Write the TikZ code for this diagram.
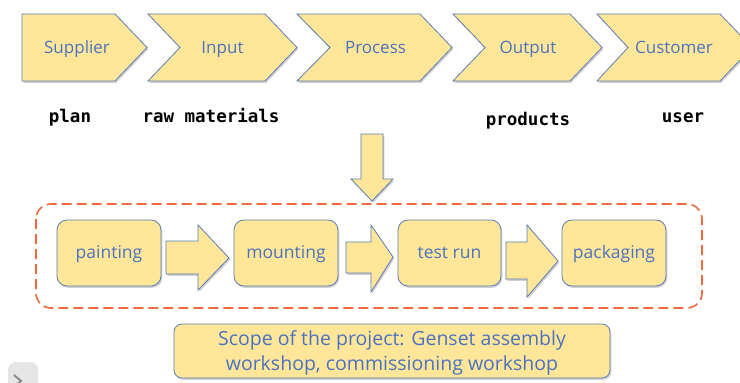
\documentclass[tikz,border=0pt]{standalone}
\usepackage{fontspec}
\setmainfont{Open Sans}
\newfontfamily\labelfont{DejaVu Sans Mono}
\usetikzlibrary{shadows}

\definecolor{boxfill}{HTML}{FFE699}
\definecolor{boxline}{HTML}{5A7BB5}
\definecolor{boxtext}{HTML}{4A72C0}
\definecolor{scopeline}{HTML}{EE6A3E}

\tikzset{
  shapefill/.style={fill=boxfill, draw=boxline, line width=0.8pt, line join=miter,
    drop shadow={shadow xshift=1.3pt, shadow yshift=-1.8pt, opacity=0.3, fill=black!60}},
  chevtext/.style={anchor=base, text=boxtext, font=\fontsize{17}{20}\selectfont, inner sep=0pt},
  steplabel/.style={anchor=base, font=\labelfont\bfseries\fontsize{17.5}{20}\selectfont, inner sep=0pt},
  stagebox/.style={shapefill, rounded corners=10pt, minimum width=104pt, minimum height=66pt,
    inner sep=0pt},
  stagetext/.style={anchor=base, text=boxtext, font=\fontsize{17.5}{20}\selectfont, inner sep=0pt},
}

\begin{document}
\begin{tikzpicture}[x=1pt, y=-1pt]
\useasboundingbox (0,0) rectangle (740,383);
\fill[white] (0,0) rectangle (740,383);

% value chain chevrons
\path[shapefill] (22,14) -- (115,14) -- (147,47.5) -- (115,81) -- (22,81) -- cycle;
\path[shapefill] (148,14) -- (265,14) -- (297,47.5) -- (265,81) -- (148,81) -- (180,47.5) -- cycle;
\path[shapefill] (297,14) -- (420,14) -- (452,47.5) -- (420,81) -- (297,81) -- (330,47.5) -- cycle;
\path[shapefill] (453,14) -- (570,14) -- (602,47.5) -- (570,81) -- (453,81) -- (485,47.5) -- cycle;
\path[shapefill] (597,14) -- (720,14) -- (752,47.5) -- (720,81) -- (597,81) -- (628,47.5) -- cycle;

\node[chevtext] (supplier) at (77,53) {Supplier};
\node[chevtext] (input)    at (222.5,53) {Input};
\node[chevtext] (process)  at (375.5,53) {Process};
\node[chevtext] (output)   at (528,53) {Output};
\node[chevtext] (customer) at (674,53) {Customer};

% what passes along the chain
\node[steplabel] (plan)     at (70,122)  {plan};
\node[steplabel] (rawmat)   at (211,122) {raw materials};
\node[steplabel] (products) at (528,125) {products};
\node[steplabel] (user)     at (683,122) {user};

% arrow into the workshop stages
\path[shapefill] (361,134) -- (383,134) -- (383,179) -- (393,179) -- (372,201)
  -- (351,179) -- (361,179) -- cycle;

% scope frame
\draw[scopeline, line width=1.6pt, dash pattern=on 10pt off 5pt, rounded corners=15pt]
  (36,204) rectangle (702,308);

% workshop stages
\node[stagebox] (painting)  at (109,253)   {};
\node[stagebox] (mounting)  at (286,253)   {};
\node[stagebox, minimum width=103pt] (testrun) at (449.5,253) {};
\node[stagebox] (packaging) at (614,253)   {};
\node[stagetext] (paintingtext)  at (109,258.5)   {painting};
\node[stagetext] (mountingtext)  at (286,258.5)   {mounting};
\node[stagetext] (testruntext)   at (449.5,258.5) {test run};
\node[stagetext] (packagingtext) at (614,258.5)   {packaging};

% block arrows between stages
\path[shapefill] (166,241) -- (198,241) -- (198,225) -- (229,258) -- (198,290)
  -- (198,274) -- (166,274) -- cycle;
\path[shapefill] (346,242) -- (371,242) -- (371,225) -- (393,257) -- (371,292)
  -- (371,273) -- (346,273) -- cycle;
\path[shapefill] (506,242) -- (527,242) -- (527,225) -- (558,261) -- (527,297)
  -- (527,279) -- (506,279) -- cycle;

% project scope (the base anchor of a two-line node sits on its last line)
\node[shapefill, rounded corners=8pt, minimum width=436pt, minimum height=54pt, inner sep=0pt]
  (scope) at (392,351) {};
\node[text=boxtext, font=\fontsize{19.5}{25}\selectfont, align=center, inner sep=0pt,
  anchor=base] (scopetext) at (392,370)
  {Scope of the project: Genset assembly\\workshop, commissioning workshop};

% corner button
\fill[black!10, rounded corners=8pt] (8,362) rectangle (38,395);
\draw[black!45, line width=2pt] (14,375) -- (21,381) -- (14,387);
\end{tikzpicture}
\end{document}
